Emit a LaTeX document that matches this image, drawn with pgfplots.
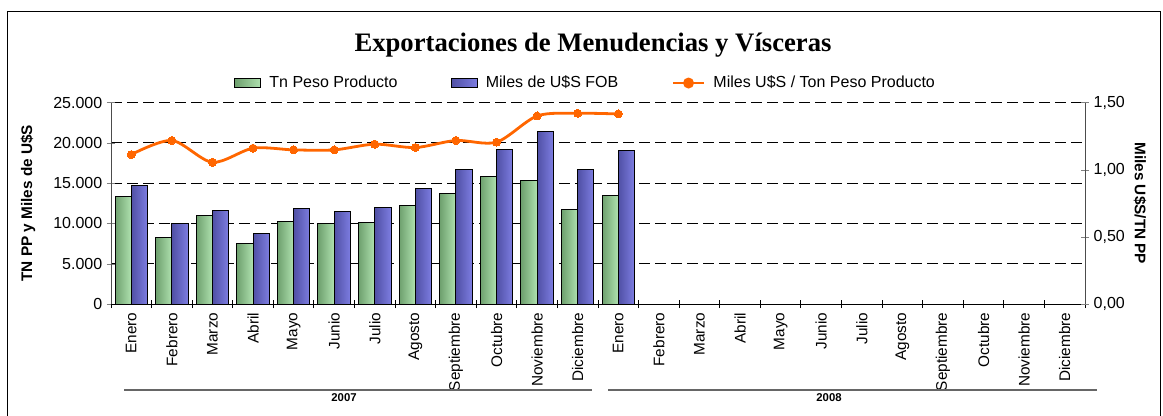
\documentclass[border=0pt]{standalone}
\usepackage{fontspec}
\setmainfont{Liberation Sans}
\newfontfamily\titlefont{Liberation Serif}
\usepackage{pgfplots}
\pgfplotsset{compat=1.18}
\definecolor{gM}{RGB}{212,255,212}
\definecolor{gD}{RGB}{110,160,110}
\definecolor{gR}{RGB}{175,225,175}
\definecolor{bM}{RGB}{165,165,255}
\definecolor{bD}{RGB}{80,80,165}
\definecolor{bR}{RGB}{125,125,225}
\definecolor{orng}{RGB}{255,102,0}
\pgfplotsset{
  myax/.style={
    scale only axis, width=730.5pt, height=151.1pt,
    at={(83.25pt,83.25pt)}, anchor=south west,
    xmin=-0.5, xmax=23.5,
    tick align=center,
    major tick length=6pt,
    minor tick length=6pt,
    /pgf/number format/assume math mode=true,
    tick label style={font=\fontsize{12}{14}\selectfont},
  },
  gbar/.style={ybar, bar width=0.4, bar shift=-0.2, draw=black, line width=0.75pt,
    left color=gD, middle color=gM, right color=gR},
  bbar/.style={ybar, bar width=0.4, bar shift=0.2, draw=black, line width=0.75pt,
    left color=bD, middle color=bM, right color=bR},
  barleg/.style={legend image code/.code={\draw[##1] (0pt,-3.4pt) rectangle (19.5pt,3.4pt);}},
  lineleg/.style={legend image code/.code={\draw[##1, mark repeat=2, mark phase=2] plot coordinates {(0pt,0pt) (11.6pt,0pt) (23.25pt,0pt)};}},
}
\newcommand\gb[2]{\addplot[gbar, forget plot] coordinates {(#1,#2)};}
\newcommand\bb[2]{\addplot[bbar, forget plot] coordinates {(#1,#2)};}
\begin{document}
\begin{tikzpicture}
\useasboundingbox (0,0) rectangle (872.25pt,311.25pt);
\draw[line width=0.75pt] (5.25pt,-5pt) rectangle (870pt,302.25pt);
\node[font=\titlefont\bfseries\fontsize{20}{22}\selectfont] at (444.75pt,277.5pt) {Exportaciones de Menudencias y Vísceras};

\begin{axis}[myax,
  axis x line*=bottom, axis y line*=left,
  x axis line style={black, line width=0.75pt},
  y axis line style={black!70, line width=0.75pt},
  ymin=0, ymax=25000, ytick={0,5000,...,25000},
  scaled y ticks=false,
  yticklabel style={/pgf/number format/.cd, fixed, 1000 sep={.}},
  ymajorgrids, major grid style={black, line width=0.75pt, dash pattern=on 8pt off 4pt},
  xtick={0,...,23},
  xticklabels={Enero,Febrero,Marzo,Abril,Mayo,Junio,Julio,Agosto,Septiembre,Octubre,Noviembre,Diciembre,Enero,Febrero,Marzo,Abril,Mayo,Junio,Julio,Agosto,Septiembre,Octubre,Noviembre,Diciembre},
  xticklabel style={rotate=90, anchor=east, font=\fontsize{11.5}{13}\selectfont},
  major x tick style={draw=none},
  minor xtick={-0.5,0.5,...,23.5},
  minor x tick style={black, line width=0.75pt},
  ylabel={TN PP y Miles de U\$S},
  every axis y label/.style={at={(axis description cs:-0.0852,0.5)}, rotate=90, anchor=center,
    font=\bfseries\fontsize{11.5}{13}\selectfont},
  legend columns=3,
  legend style={draw=none, fill=none, at={(axis description cs:0.4877,1.0968)}, anchor=center,
    /tikz/every odd column/.append style={column sep=4pt},
    /tikz/every even column/.append style={column sep=38pt},
    font=\fontsize{12}{14}\selectfont, inner sep=0pt},
]
\addlegendimage{gbar, barleg}
\addlegendentry{Tn Peso Producto}
\addlegendimage{bbar, barleg}
\addlegendentry{Miles de U\$S FOB}
\addlegendimage{orng, line width=2.1pt, mark=*, mark size=3pt, lineleg}
\addlegendentry{Miles U\$S / Ton Peso Producto}
% Tn Peso Producto
\gb{0}{13330} \gb{1}{8250} \gb{2}{11000} \gb{3}{7500} \gb{4}{10290} \gb{5}{9960}
\gb{6}{10080} \gb{7}{12250} \gb{8}{13670} \gb{9}{15880} \gb{10}{15380} \gb{11}{11750} \gb{12}{13500}
% Miles de U$S FOB
\bb{0}{14750} \bb{1}{9960} \bb{2}{11630} \bb{3}{8710} \bb{4}{11880} \bb{5}{11460}
\bb{6}{12000} \bb{7}{14290} \bb{8}{16630} \bb{9}{19130} \bb{10}{21460} \bb{11}{16630} \bb{12}{19080}
\end{axis}

\begin{axis}[myax,
  axis x line=none, axis y line*=right,
  y axis line style={black!70, line width=0.75pt},
  ymin=0, ymax=1.5, ytick={0,0.5,1,1.5},
  yticklabel style={/pgf/number format/.cd, fixed, fixed zerofill, precision=2, use comma},
  ylabel={Miles U\$S/TN PP},
  every axis y label/.style={at={(axis description cs:1.0565,0.5)}, rotate=-90, anchor=center,
    font=\bfseries\fontsize{11.5}{13}\selectfont},
]
\addplot[orng, line width=2.1pt, smooth, mark=*, mark size=3pt, mark options={fill=orng, draw=orng, line width=0pt}]
coordinates {(0,1.1125) (1,1.2175) (2,1.055) (3,1.16) (4,1.1475) (5,1.1475) (6,1.19) (7,1.165) (8,1.2175) (9,1.205) (10,1.40) (11,1.42) (12,1.415)};
\end{axis}

\draw[black!60, line width=1.5pt] (93pt,18.75pt) -- (444pt,18.75pt);
\draw[black!60, line width=1.5pt] (456pt,18.75pt) -- (822.75pt,18.75pt);
\node[font=\bfseries\fontsize{8.5}{10}\selectfont] at (258pt,12.75pt) {2007};
\node[font=\bfseries\fontsize{8.5}{10}\selectfont] at (621.75pt,12.75pt) {2008};
\end{tikzpicture}
\end{document}
